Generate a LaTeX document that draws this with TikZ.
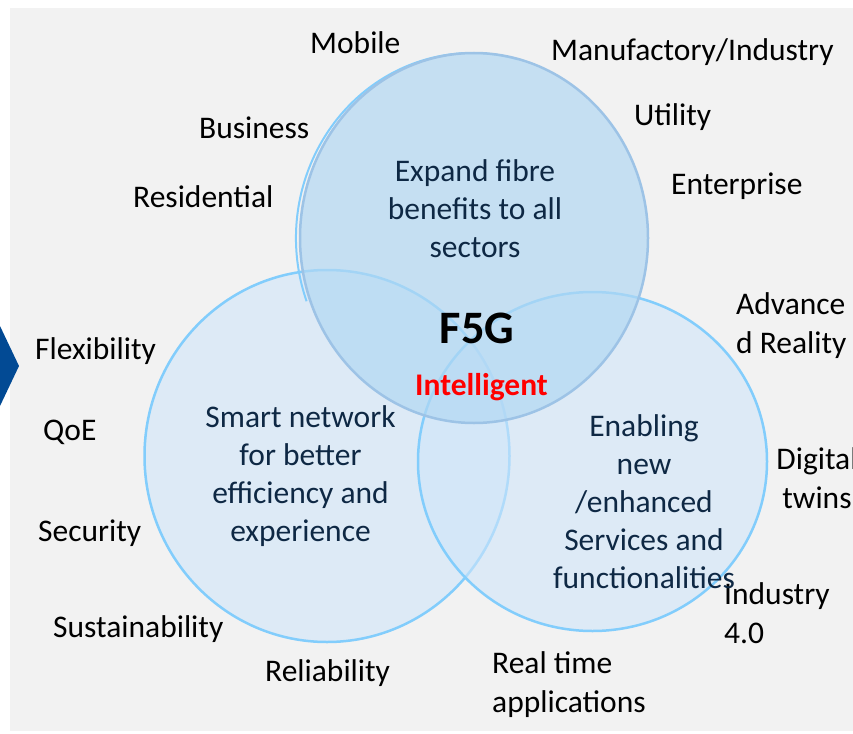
\documentclass[tikz,border=0pt]{standalone}
\usepackage{fontspec}
\setmainfont{Carlito}
\usetikzlibrary{shapes.geometric}
\definecolor{bggray}{RGB}{242,242,242}
\definecolor{lrfill}{RGB}{207,229,250}
\definecolor{topfill}{RGB}{178,216,243}
\definecolor{lredge}{RGB}{130,205,252}
\definecolor{topedge}{RGB}{157,195,230}
\definecolor{navy}{RGB}{14,40,68}
\definecolor{arrowblue}{RGB}{2,74,148}
\definecolor{hotred}{RGB}{255,0,0}
\begin{document}
\begin{tikzpicture}[x=1pt,y=-1pt,
  lbl/.style={font=\fontsize{31.5}{38.5}\selectfont, text=black, inner sep=0pt, align=left},
  inlbl/.style={font=\fontsize{31.5}{37.8}\selectfont, text=navy, inner sep=0pt, align=center},
  venn/.style={ellipse, inner sep=0pt, outer sep=0pt, line width=2.5pt},
]
\useasboundingbox (0,0) rectangle (853,733);
\fill[bggray] (10,8) rectangle (853,731);
\fill[arrowblue] (0,326) -- (19,366) -- (0,406) -- cycle;

\node[venn, draw=lredge, fill=lrfill, fill opacity=0.6, minimum width=365pt, minimum height=372pt] (leftc) at (327,456) {};
\node[venn, draw=lredge, fill=lrfill, fill opacity=0.6, minimum width=349pt, minimum height=339pt] (rightc) at (592.5,461.5) {};
\coordinate (shadowc) at (472,238);
\draw[lredge, line width=2pt] (shadowc) ++(160:176 and 185) arc[start angle=160, end angle=285, x radius=176, y radius=185];
\node[venn, draw=topedge, fill=topfill, fill opacity=0.7, minimum width=348pt, minimum height=370pt] (topc) at (474,238) {};

\node[lbl, anchor=base west] (mobile) at (310,54) {Mobile};
\node[lbl, anchor=base west] (manu) at (551,61) {Manufactory/Industry};
\node[lbl, anchor=base west] (business) at (199,138) {Business};
\node[lbl, anchor=base west] (utility) at (634,125) {Utility};
\node[lbl, anchor=base west] (resid) at (133,207) {Residential};
\node[lbl, anchor=base west] (enter) at (671,194) {Enterprise};
\node[lbl, anchor=base west] (advr) at (736,353) {Advance\\d Reality};
\node[lbl, anchor=base west] (flex) at (35,359) {Flexibility};
\node[lbl, anchor=base west] (qoe) at (43,440) {QoE};
\node[lbl, anchor=base, align=center] (dig) at (817,508) {Digital\\twins};
\node[lbl, anchor=base west] (sec) at (38,541) {Security};
\node[lbl, anchor=base west] (ind) at (724,643) {Industry\\4.0};
\node[lbl, anchor=base west] (sust) at (53,637) {Sustainability};
\node[lbl, anchor=base west] (rel) at (265,681) {Reliability};
\node[lbl, anchor=base west] (rt) at (492,712) {Real time\\applications};

\node[inlbl, anchor=base] (toptext) at (475,257) {Expand fibre\\benefits to all\\sectors};
\node[inlbl, anchor=base] (lefttext) at (300.5,541) {Smart network\\for better\\efficiency and\\experience};
\node[inlbl, anchor=base] (righttext) at (644,588) {Enabling\\new\\/enhanced\\Services and\\functionalities};
\node[font=\bfseries\fontsize{46.5}{50}\selectfont, text=black, inner sep=0pt, anchor=base] (f5g) at (477,343) {F5G};
\node[font=\bfseries\fontsize{31.5}{38}\selectfont, text=hotred, inner sep=0pt, anchor=base] (intel) at (481.5,395) {Intelligent};
\end{tikzpicture}
\end{document}
